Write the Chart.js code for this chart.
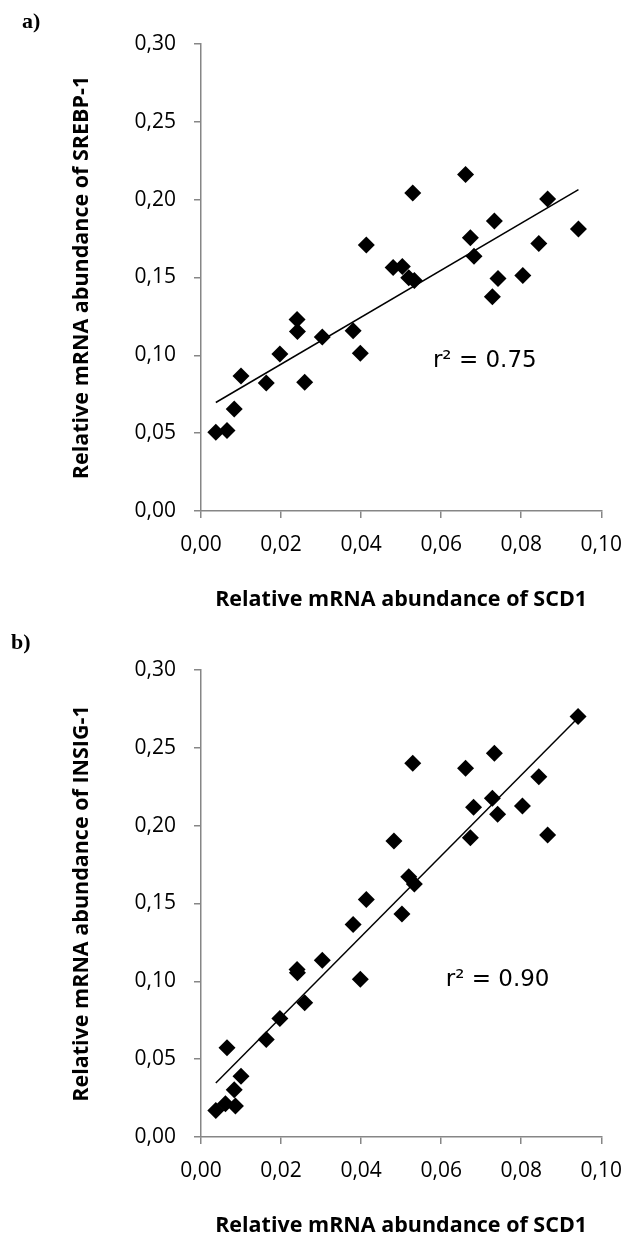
<!DOCTYPE html>
<html>
<head>
<meta charset="utf-8">
<script src="https://cdn.jsdelivr.net/npm/chart.js@4.4.1/dist/chart.umd.min.js"></script>
<style>
  html, body { margin: 0; padding: 0; background: #fff; }
  #wrap { position: relative; width: 636px; height: 1240px; }
  canvas { position: absolute; left: 0; }
  #chartA { top: 0; }
  #chartB { top: 620px; }
</style>
</head>
<body>
<div id="wrap">
  <canvas id="chartA" width="636" height="620"></canvas>
  <canvas id="chartB" width="636" height="620"></canvas>
</div>
<script>
// panel a) SCD1 vs SREBP-1
var scd1A = [0.0037, 0.0065, 0.0083, 0.0100, 0.0163, 0.0197, 0.0240, 0.0241, 0.0259, 0.0303,
             0.0380, 0.0398, 0.0413, 0.0480, 0.0503, 0.0519, 0.0533, 0.0529, 0.0661, 0.0673,
             0.0682, 0.0728, 0.0733, 0.0742, 0.0804, 0.0844, 0.0866, 0.0943];
var srebp1 = [0.0506, 0.0517, 0.0656, 0.0868, 0.0823, 0.1008, 0.1230, 0.1153, 0.0827, 0.1117,
              0.1158, 0.1014, 0.1708, 0.1565, 0.1571, 0.1498, 0.1481, 0.2043, 0.2161, 0.1756,
              0.1636, 0.1376, 0.1863, 0.1494, 0.1513, 0.1719, 0.2004, 0.1811];
var trendAx = [0.0037, 0.0943];
var trendAy = [0.0697, 0.2064];

// panel b) SCD1 vs INSIG-1
var scd1B = [0.0037, 0.0061, 0.0086, 0.0083, 0.0100, 0.0065, 0.0163, 0.0197, 0.0259, 0.0240,
             0.0241, 0.0303, 0.0398, 0.0380, 0.0413, 0.0502, 0.0519, 0.0533, 0.0482, 0.0529,
             0.0661, 0.0673, 0.0681, 0.0728, 0.0733, 0.0741, 0.0803, 0.0844, 0.0866, 0.0942];
var insig1 = [0.0171, 0.0214, 0.0199, 0.0304, 0.0390, 0.0574, 0.0626, 0.0761, 0.0862, 0.1076,
              0.1055, 0.1136, 0.1014, 0.1365, 0.1526, 0.1432, 0.1672, 0.1625, 0.1901, 0.2401,
              0.2369, 0.1923, 0.2118, 0.2176, 0.2465, 0.2073, 0.2127, 0.2315, 0.1940, 0.2701];
var trendBx = [0.0037, 0.0941];
var trendBy = [0.0347, 0.2690];

var xTitle = "Relative mRNA abundance of SCD1";
var r2A = "r\u00B2 = 0.75", r2B = "r\u00B2 = 0.90";

function toPoints(xs, ys) {
  var pts = [];
  for (var i = 0; i < xs.length; i++) pts.push({x: xs[i], y: ys[i]});
  return pts;
}

function comma(v) { return Number(v).toFixed(2).replace('.', ','); }

// r² text and panel letter
var notes = {
  id: 'notes',
  afterDraw: function (chart, args, opts) {
    var ctx = chart.ctx;
    ctx.save();
    ctx.fillStyle = '#000';
    ctx.font = '23px "DejaVu Sans"';
    ctx.textAlign = 'center';
    ctx.textBaseline = 'alphabetic';
    ctx.fillText(opts.r2, chart.scales.x.getPixelForValue(opts.r2At[0]), chart.scales.y.getPixelForValue(opts.r2At[1]));
    ctx.font = 'bold 22px "Liberation Serif"';
    ctx.textAlign = 'left';
    ctx.fillText(opts.panel, opts.panelAt[0], opts.panelAt[1]);
    ctx.restore();
  }
};

function makeChart(id, xs, ys, tx, ty, yTitle, o) {
  return new Chart(document.getElementById(id), {
    type: 'scatter',
    data: {
      datasets: [{
        data: toPoints(xs, ys),
        pointStyle: 'rectRot',
        pointRadius: 8.5,
        pointBackgroundColor: '#000',
        pointBorderWidth: 0
      }, {
        data: toPoints(tx, ty),
        showLine: true,
        borderColor: '#000',
        borderWidth: 1.5,
        pointRadius: 0
      }]
    },
    options: {
      responsive: false,
      animation: false,
      layout: { padding: { top: o.top, right: 26, left: 0, bottom: 0 } },
      plugins: {
        legend: { display: false },
        tooltip: { enabled: false },
        notes: { r2: o.r2, r2At: o.r2At, panel: o.panel, panelAt: o.panelAt }
      },
      scales: {
        x: {
          type: 'linear', min: 0, max: 0.1,
          afterFit: function (s) { s.height = o.xh; },
          ticks: { stepSize: 0.02, padding: 14, color: '#000', font: { family: 'Open Sans', size: 21 }, callback: comma },
          grid: { drawOnChartArea: false, tickLength: 7, color: '#868686', lineWidth: 1.5 },
          border: { color: '#868686', width: 1.5 },
          title: { display: true, text: xTitle, color: '#000', padding: { top: 0, bottom: o.tpb },
                   font: { family: 'Open Sans', size: 21.5, weight: 'bold' } }
        },
        y: {
          type: 'linear', min: 0, max: 0.3,
          afterFit: function (s) { s.width = 201; },
          ticks: { stepSize: 0.05, padding: 18, color: '#000', font: { family: 'Open Sans', size: 21 }, callback: comma },
          grid: { drawOnChartArea: false, tickLength: 7, color: '#868686', lineWidth: 1.5 },
          border: { color: '#868686', width: 1.5 },
          title: { display: true, text: yTitle, color: '#000', padding: { top: 69, bottom: 0 },
                   font: { family: 'Open Sans', size: 21.5, weight: 'bold' } }
        }
      }
    },
    plugins: [notes]
  });
}

makeChart('chartA', scd1A, srebp1, trendAx, trendAy, 'Relative mRNA abundance of SREBP-1',
  { top: 44, xh: 109, tpb: 7, r2: r2A, r2At: [0.0709, 0.0926], panel: 'a)', panelAt: [22, 28] });
makeChart('chartB', scd1B, insig1, trendBx, trendBy, 'Relative mRNA abundance of INSIG-1',
  { top: 50, xh: 103, tpb: 1, r2: r2B, r2At: [0.0741, 0.0969], panel: 'b)', panelAt: [11, 29] });
</script>
</body>
</html>
